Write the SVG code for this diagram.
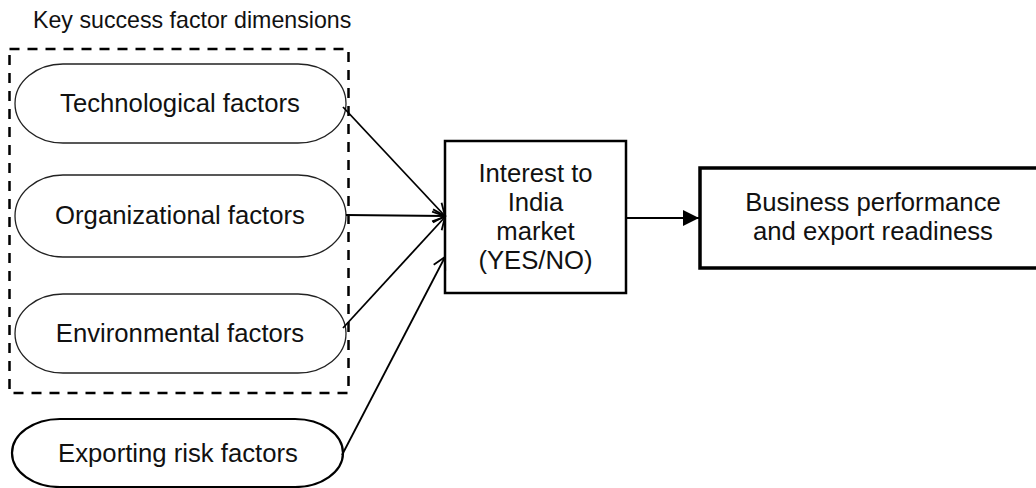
<svg xmlns="http://www.w3.org/2000/svg" width="1036" height="488" viewBox="0 0 1036 488">
  <style>
    text { font-family: "Liberation Sans", Arial, sans-serif; fill: #111; text-anchor: middle; }
    .lbl { font-size: 25.7px; }
    .title { font-size: 23.2px; text-anchor: start; }
    .pill { fill: #fff; stroke: #222; stroke-width: 1.3; }
    .pill.bold { stroke: #000; stroke-width: 2.2; }
    .box { fill: #fff; stroke: #000; stroke-width: 2.5; }
    .box.heavy { stroke-width: 3.5; }
    .group { fill: none; stroke: #000; stroke-width: 2.5; stroke-dasharray: 10 8; }
    .edge { fill: none; stroke: #000; stroke-width: 1.8; }
  </style>
  <defs>
    <marker id="open" markerWidth="16" markerHeight="16" refX="14" refY="8" orient="auto" markerUnits="userSpaceOnUse">
      <path d="M2,1.5 L14,8 L2,14.5" fill="none" stroke="#000" stroke-width="1.8"/>
    </marker>
    <marker id="solid" markerWidth="18" markerHeight="18" refX="17" refY="9" orient="auto" markerUnits="userSpaceOnUse">
      <path d="M1,1 L17,9 L1,17 Z" fill="#000"/>
    </marker>
  </defs>

  <text class="title" x="33" y="28">Key success factor dimensions</text>

  <!-- dashed grouping of the key success factor dimensions -->
  <rect id="ksf-group" class="group" x="9.5" y="49" width="339" height="344"/>

  <g id="tech">
    <rect class="pill" x="15" y="64" width="331" height="79" rx="48" ry="39.5"/>
    <text class="lbl" x="180" y="112">Technological factors</text>
  </g>
  <g id="org">
    <rect class="pill" x="15" y="175" width="331" height="82" rx="48" ry="41"/>
    <text class="lbl" x="180" y="224">Organizational factors</text>
  </g>
  <g id="env">
    <rect class="pill" x="15" y="294" width="331" height="79" rx="48" ry="39.5"/>
    <text class="lbl" x="180" y="342">Environmental factors</text>
  </g>
  <g id="risk">
    <rect class="pill bold" x="12" y="419" width="331" height="68" rx="48" ry="34"/>
    <text class="lbl" x="178" y="462">Exporting risk factors</text>
  </g>

  <g id="interest">
    <rect class="box" x="445" y="141" width="181" height="152"/>
    <text class="lbl" x="535.5" y="182">Interest to</text>
    <text class="lbl" x="535.5" y="211">India</text>
    <text class="lbl" x="535.5" y="240">market</text>
    <text class="lbl" x="535.5" y="269">(YES/NO)</text>
  </g>

  <g id="performance">
    <rect class="box heavy" x="700" y="168" width="346" height="100"/>
    <text class="lbl" x="873" y="211">Business performance</text>
    <text class="lbl" x="873" y="240">and export readiness</text>
  </g>

  <g id="connectors">
    <path class="edge" d="M343,107 L445,216" marker-end="url(#open)"/>
    <path class="edge" d="M346,215 L445,216" marker-end="url(#open)"/>
    <path class="edge" d="M343,328 L445,217" marker-end="url(#open)"/>
    <path class="edge" d="M342,455 L445,257" marker-end="url(#open)"/>
    <path class="edge" d="M626,218 L699,218" marker-end="url(#solid)"/>
  </g>
</svg>
